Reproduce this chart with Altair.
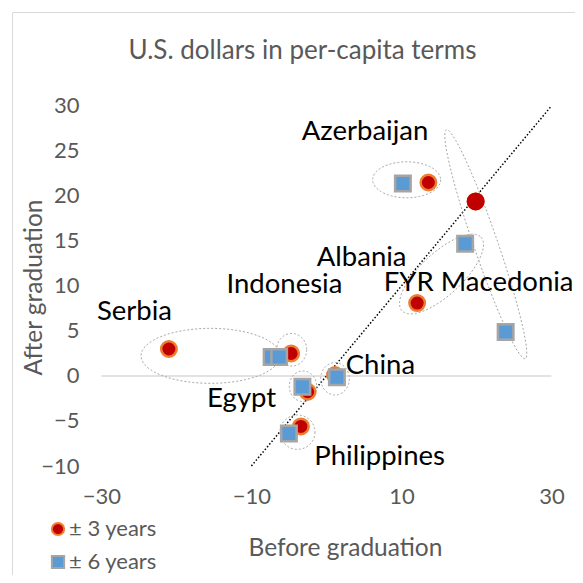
import altair as alt
import pandas as pd
import numpy as np

# ---- data ----
countries = ["Azerbaijan", "FYR Macedonia", "Albania", "Serbia",
             "Indonesia", "China", "Egypt", "Philippines"]
before_3y = [13.6, 19.9, 12.1, -21.0, -4.7, 1.15, -2.5, -3.4]
after_3y = [21.5, 19.4, 8.1, 3.0, 2.5, 0.1, -1.75, -5.6]
before_6y = [10.2, 23.9, 18.5, -7.3, -6.3, 1.4, -3.2, -5.0]
after_6y = [21.4, 4.9, 14.7, 2.1, 2.1, -0.15, -1.2, -6.4]
series_names = ["± 3 years", "± 6 years"]

label_text = ["Azerbaijan", "Albania", "Indonesia", "FYR Macedonia",
              "Serbia", "China", "Egypt", "Philippines"]
label_x = [5.15, 4.7, -5.6, 20.3, -25.6, 7.2, -11.3, 7.1]
label_y = [27.15, 13.1, 10.1, 10.3, 7.1, 1.1, -2.55, -8.95]

diag_vals = [-10, 30]          # 45-degree reference line
x_ticks = [-30, -10, 10, 30]
y_ticks = [-10, -5, 0, 5, 10, 15, 20, 25, 30]

# grouping ellipses: centre (data units), semi-axes (px), rotation (deg)
ell_name = ["Azerbaijan", "FYR Macedonia", "Albania", "Serbia",
            "Indonesia", "Egypt", "China", "Philippines"]
ell_cx = [10.7, 21.25, 15.35, -15.45, -4.63, -3.12, 1.15, -3.85]
ell_cy = [21.8, 14.64, 11.33, 2.24, 2.92, -1.14, -0.31, -6.24]
ell_a = [34, 121, 54, 69.5, 15, 13.7, 14.3, 17.5]
ell_b = [18, 12, 21, 27.5, 16.3, 15.3, 16.2, 17.2]
ell_rot = [0, 71, -43, 0, 0, 0, 0, 0]

# ---- layout ----
W, H = 563, 563
x_dom = [-41.92, 33.147]
y_dom = [-22.111, 40.444]
px_x = W / (x_dom[1] - x_dom[0])
px_y = H / (y_dom[1] - y_dom[0])

FONT = "Lato"
GREY = "#595959"

xs = alt.Scale(domain=x_dom, nice=False, zero=False)
ys = alt.Scale(domain=y_dom, nice=False, zero=False)

pts = pd.DataFrame({
    "country": countries * 2,
    "series": [series_names[0]] * len(countries) + [series_names[1]] * len(countries),
    "before": before_3y + before_6y,
    "after": after_3y + after_6y,
})

labels = pd.DataFrame({"text": label_text, "x": label_x, "y": label_y})
diag = pd.DataFrame({"x": diag_vals, "y": diag_vals})
zero = pd.DataFrame({"x": [x_ticks[0]], "x2": [x_ticks[-1]], "y": [0]})

rows = []
t = np.linspace(0, 2 * np.pi, 91)
for name, cx, cy, a, b, r in zip(ell_name, ell_cx, ell_cy, ell_a, ell_b, ell_rot):
    phi = np.deg2rad(r)
    dx = a * np.cos(t) * np.cos(phi) - b * np.sin(t) * np.sin(phi)
    dy = a * np.cos(t) * np.sin(phi) + b * np.sin(t) * np.cos(phi)
    for i in range(len(t)):
        rows.append({"g": name, "i": i, "x": cx + dx[i] / px_x, "y": cy - dy[i] / px_y})
ell = pd.DataFrame(rows)

# frame (top + left lines) and chart title through axes; zero line
frame = alt.Chart(zero).mark_rule(color="#d9d9d9", strokeWidth=1.5).encode(
    x=alt.X("x:Q", scale=xs, axis=alt.Axis(
        orient="top", offset=0, domain=True, domainColor="#d9d9d9", domainWidth=1,
        labels=False, ticks=False, grid=False,
        title="U.S. dollars in per-capita terms", titleX=290, titleY=46,
        titleAlign="center", titleBaseline="alphabetic", titleFont=FONT,
        titleFontSize=26, titleFontWeight="normal", titleColor=GREY)),
    x2="x2:Q",
    y=alt.Y("y:Q", scale=ys, axis=alt.Axis(
        orient="left", offset=0, domain=True, domainColor="#d9d9d9", domainWidth=1,
        labels=False, ticks=False, grid=False, title=None)),
)

diag_line = alt.Chart(diag).mark_line(color="black", strokeWidth=1.5, strokeDash=[1.5, 2]).encode(
    x=alt.X("x:Q", scale=xs, axis=None),
    y=alt.Y("y:Q", scale=ys, axis=None),
)

ellipses = alt.Chart(ell).mark_line(color="#a6a6a6", strokeWidth=1, strokeDash=[2, 2]).encode(
    x=alt.X("x:Q", scale=xs, axis=None),
    y=alt.Y("y:Q", scale=ys, axis=None),
    detail="g:N",
    order="i:Q",
)

leg = alt.Legend(title=None, orient="none", legendX=35, legendY=506, padding=0,
                 labelFont=FONT, labelFontSize=22, labelColor=GREY,
                 symbolSize=150, symbolStrokeWidth=2, rowPadding=11, labelOffset=0)

points = alt.Chart(pts).mark_point(filled=True, size=240, strokeWidth=2.5, opacity=1).encode(
    x=alt.X("before:Q", scale=xs, axis=alt.Axis(
        orient="bottom", offset=-79, values=x_ticks, domain=False, ticks=False, tickSize=0,
        grid=False, labelPadding=0, labelBaseline="middle", labelFlush=False, labelOverlap=False,
        labelFont=FONT, labelFontSize=22, labelColor=GREY,
        title="Before graduation", titleX=333, titleY=52, titleAlign="center",
        titleBaseline="middle", titleFont=FONT, titleFontSize=24.5,
        titleFontWeight="normal", titleColor=GREY)),
    y=alt.Y("after:Q", scale=ys, axis=alt.Axis(
        orient="left", offset=-67, values=y_ticks, domain=False, ticks=False, tickSize=0,
        grid=False, labelPadding=0, labelFlush=False, labelOverlap=False,
        labelFont=FONT, labelFontSize=22, labelColor=GREY,
        title="After graduation", titleX=-45, titleY=275, titleAngle=-90,
        titleAlign="center", titleBaseline="middle", titleFont=FONT, titleFontSize=24.5,
        titleFontWeight="normal", titleColor=GREY)),
    shape=alt.Shape("series:N", scale=alt.Scale(domain=series_names, range=["circle", "square"]), legend=leg),
    fill=alt.Fill("series:N", scale=alt.Scale(domain=series_names, range=["#c00000", "#5b9bd5"]), legend=leg),
    stroke=alt.Stroke("series:N", scale=alt.Scale(domain=series_names, range=["#ed7d31", "#a5a5a5"]), legend=leg),
)

highlight = alt.Chart(pts).transform_filter(
    (alt.datum.country == "FYR Macedonia") & (alt.datum.series == series_names[0])
).mark_point(filled=True, shape="circle", size=240, strokeWidth=2.5, color="#c00000",
             stroke="#c00000", opacity=1).encode(
    x=alt.X("before:Q", scale=xs, axis=None),
    y=alt.Y("after:Q", scale=ys, axis=None),
)

texts = alt.Chart(labels).mark_text(font=FONT, fontSize=27.5, color="black",
                                    align="center", baseline="middle").encode(
    x=alt.X("x:Q", scale=xs, axis=None),
    y=alt.Y("y:Q", scale=ys, axis=None),
    text="text:N",
)

chart = alt.layer(frame, diag_line, ellipses, points, highlight, texts).resolve_axis(
    x="independent", y="independent"
).properties(
    width=W, height=H,
    autosize=alt.AutoSizeParams(type="none"),
    padding={"left": 4, "top": 4, "right": 0, "bottom": 0},
).configure_view(strokeWidth=0)

chart.save("out.html", embed_options={"renderer": "svg", "actions": False})
